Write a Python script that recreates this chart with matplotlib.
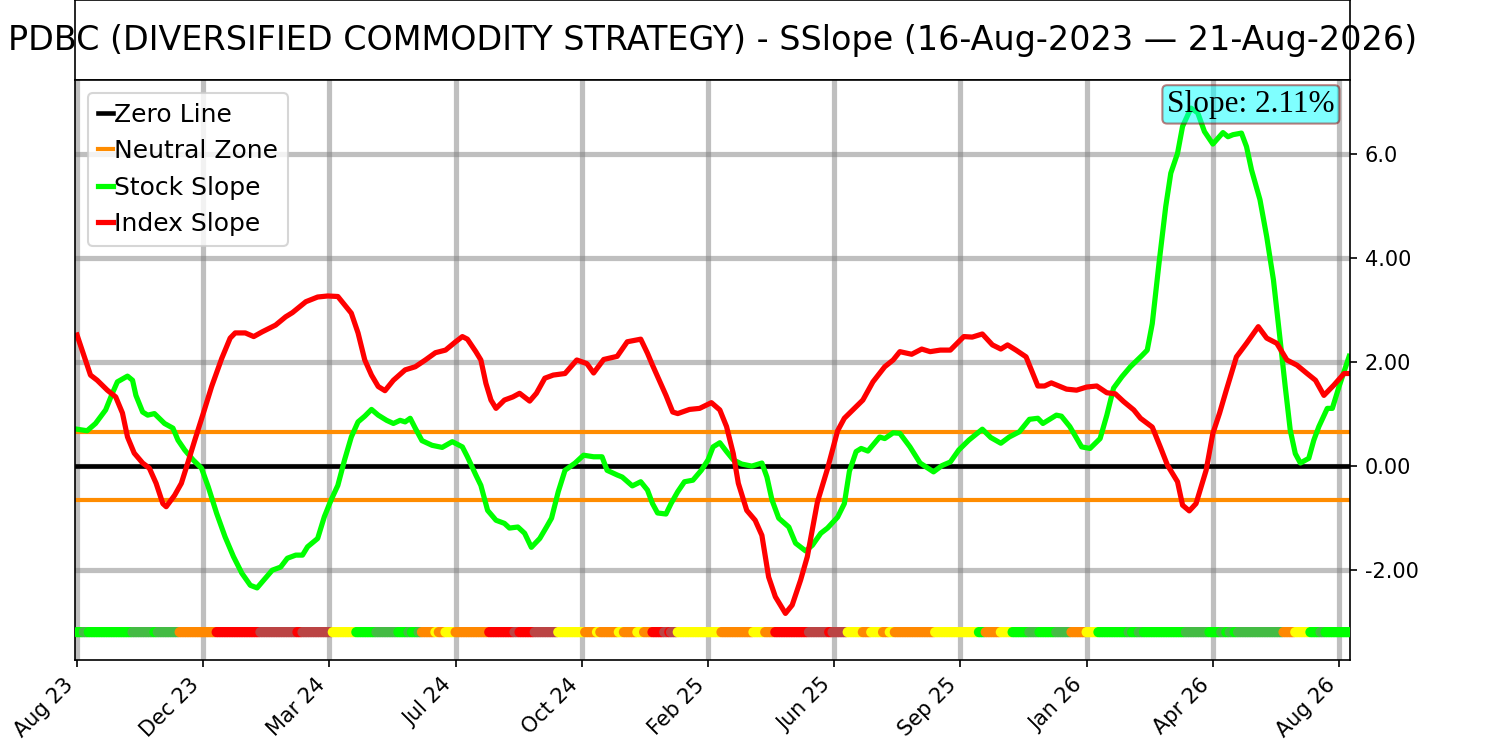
import numpy as np
import matplotlib.pyplot as plt

title = 'PDBC (DIVERSIFIED COMMODITY STRATEGY) - SSlope (16-Aug-2023 \u2014 21-Aug-2026)'

n_bars = 757
tick_pos = [0, 75, 150, 225, 300, 375, 450, 525, 600, 675, 750]
tick_labels = ['Aug 23', 'Dec 23', 'Mar 24', 'Jul 24', 'Oct 24', 'Feb 25',
               'Jun 25', 'Sep 25', 'Jan 26', 'Apr 26', 'Aug 26']
y_ticks = [-2, 0, 2, 4, 6]
y_tick_labels = ['-2.00', '0.00', '2.00', '4.00', '6.0']
neutral = 0.65
last_slope = 2.11

# stock slope readings (bar index, value)
stock_idx = [0, 6, 11, 17, 21, 24, 30, 33, 35, 39, 42, 46, 52, 57, 60, 64, 69, 74, 78, 83,
             88, 93, 98, 103, 107, 111, 116, 121, 125, 130, 134, 137, 143, 147, 151, 155, 159,
             163, 167, 171, 175, 179, 184, 188, 192, 195, 198, 201, 205, 211, 217, 223, 229,
             232, 237, 240, 244, 249, 254, 257, 262, 266, 270, 275, 279, 282, 286, 290, 296,
             301, 307, 312, 315, 321, 324, 330, 335, 339, 342, 345, 350, 353, 357, 361, 366,
             371, 375, 378, 382, 386, 390, 395, 401, 407, 410, 413, 417, 423, 427, 433, 437,
             442, 446, 452, 456, 459, 463, 466, 470, 477, 480, 485, 489, 495, 501, 509, 514,
             519, 524, 530, 538, 543, 549, 554, 560, 566, 571, 574, 582, 585, 590, 597, 602,
             608, 612, 616, 621, 626, 633, 636, 639, 643, 647, 650, 654, 657, 662, 666, 670,
             675, 681, 684, 687, 692, 695, 698, 703, 707, 711, 715, 718, 721, 724, 727, 732,
             735, 738, 743, 746, 750, 756]
stock_val = [0.71, 0.68, 0.82, 1.08, 1.40, 1.62, 1.73, 1.65, 1.36, 1.04, 0.98, 1.01, 0.82, 0.73,
             0.50, 0.31, 0.12, -0.04, -0.40, -0.91, -1.36, -1.74, -2.06, -2.29, -2.34, -2.19,
             -2.00, -1.94, -1.77, -1.71, -1.71, -1.55, -1.39, -0.97, -0.65, -0.37, 0.12, 0.56,
             0.85, 0.96, 1.09, 0.98, 0.88, 0.82, 0.88, 0.85, 0.92, 0.73, 0.49, 0.40, 0.36, 0.47,
             0.37, 0.18, -0.17, -0.37, -0.85, -1.04, -1.10, -1.19, -1.17, -1.29, -1.56, -1.39,
             -1.17, -1.00, -0.49, -0.08, 0.06, 0.21, 0.18, 0.18, -0.08, -0.17, -0.21, -0.38,
             -0.30, -0.46, -0.72, -0.90, -0.92, -0.72, -0.49, -0.30, -0.27, -0.08, 0.12, 0.37,
             0.45, 0.28, 0.12, 0.04, 0.00, 0.06, -0.21, -0.65, -1.00, -1.17, -1.48, -1.63,
             -1.52, -1.29, -1.19, -0.98, -0.72, -0.10, 0.28, 0.34, 0.29, 0.56, 0.53, 0.64, 0.63,
             0.37, 0.06, -0.11, 0.01, 0.08, 0.31, 0.50, 0.71, 0.55, 0.44, 0.56, 0.66, 0.90, 0.92,
             0.82, 0.98, 0.96, 0.76, 0.37, 0.34, 0.53, 0.98, 1.50, 1.72, 1.91, 2.13, 2.23, 2.74,
             3.90, 4.99, 5.63, 6.01, 6.53, 6.88, 6.79, 6.43, 6.19, 6.41, 6.33, 6.37, 6.40, 6.14,
             5.69, 5.12, 4.41, 3.58, 2.42, 1.53, 0.69, 0.24, 0.06, 0.15, 0.50, 0.76, 1.11, 1.11,
             1.53, 2.11]

# index slope readings (bar index, value)
index_idx = [0, 5, 8, 12, 18, 23, 27, 30, 34, 39, 43, 47, 51, 53, 58, 62, 66, 70, 75, 80, 86,
             91, 94, 100, 105, 110, 118, 124, 128, 136, 143, 149, 155, 159, 163, 167, 171, 175,
             179, 183, 188, 195, 201, 207, 213, 219, 225, 229, 232, 237, 240, 243, 246, 249,
             254, 259, 263, 269, 273, 278, 283, 290, 297, 303, 307, 313, 321, 327, 335, 339,
             342, 346, 350, 354, 357, 364, 370, 377, 382, 386, 390, 393, 398, 403, 407, 411,
             415, 421, 425, 430, 434, 440, 446, 452, 456, 461, 467, 473, 480, 485, 489, 496,
             502, 507, 513, 519, 527, 532, 538, 544, 549, 553, 558, 564, 568, 571, 575, 579,
             588, 594, 600, 606, 612, 617, 622, 628, 632, 639, 644, 648, 654, 657, 661, 665,
             671, 675, 679, 683, 689, 695, 702, 707, 713, 719, 725, 731, 736, 741, 747, 753, 756]
index_val = [2.52, 2.04, 1.75, 1.65, 1.46, 1.33, 1.02, 0.56, 0.25, 0.06, -0.04, -0.33, -0.72,
             -0.78, -0.56, -0.33, 0.08, 0.50, 1.01, 1.53, 2.07, 2.46, 2.56, 2.56, 2.49, 2.58,
             2.71, 2.87, 2.95, 3.16, 3.25, 3.27, 3.26, 3.10, 2.94, 2.56, 2.04, 1.75, 1.53, 1.45,
             1.65, 1.85, 1.91, 2.04, 2.18, 2.23, 2.39, 2.49, 2.44, 2.20, 2.04, 1.59, 1.27, 1.11,
             1.27, 1.33, 1.40, 1.25, 1.40, 1.69, 1.75, 1.78, 2.04, 1.97, 1.79, 2.05, 2.11, 2.39,
             2.44, 2.17, 1.94, 1.65, 1.36, 1.04, 1.01, 1.09, 1.11, 1.22, 1.08, 0.76, 0.24, -0.33,
             -0.85, -1.04, -1.33, -2.13, -2.51, -2.83, -2.67, -2.19, -1.74, -0.69, -0.05, 0.68,
             0.92, 1.08, 1.27, 1.62, 1.91, 2.04, 2.20, 2.15, 2.25, 2.20, 2.23, 2.23, 2.49, 2.48,
             2.54, 2.33, 2.25, 2.33, 2.23, 2.10, 1.78, 1.54, 1.54, 1.60, 1.48, 1.46, 1.52, 1.54,
             1.41, 1.39, 1.24, 1.08, 0.92, 0.75, 0.35, 0.02, -0.30, -0.75, -0.86, -0.72, -0.08,
             0.63, 1.02, 1.46, 2.10, 2.36, 2.68, 2.46, 2.36, 2.04, 1.94, 1.78, 1.65, 1.36, 1.56,
             1.78, 1.78]

# state of each bar as runs: (state, number of bars)
state_runs = [('G', 4), ('g', 3), ('G', 26), ('g', 13), ('G', 2), ('g', 13), ('O', 22),
              ('R', 26), ('r', 22), ('R', 3), ('r', 18), ('Y', 14), ('G', 12), ('g', 13),
              ('G', 6), ('g', 2), ('G', 4), ('g', 2), ('O', 8), ('Y', 2), ('O', 4), ('Y', 6),
              ('O', 20), ('R', 15), ('r', 3), ('R', 9), ('r', 14), ('Y', 16), ('O', 7),
              ('Y', 2), ('O', 11), ('Y', 3), ('O', 8), ('Y', 4), ('O', 5), ('R', 7), ('r', 3),
              ('R', 1), ('r', 4), ('Y', 26), ('O', 19), ('Y', 7), ('O', 6), ('R', 20),
              ('r', 12), ('R', 2), ('r', 9), ('Y', 9), ('O', 5), ('Y', 7), ('O', 4), ('Y', 3),
              ('O', 24), ('Y', 26), ('G', 4), ('O', 9), ('Y', 7), ('G', 10), ('g', 6),
              ('G', 10), ('g', 9), ('O', 9), ('Y', 7), ('G', 18), ('g', 2), ('G', 4), ('g', 3),
              ('G', 25), ('g', 14), ('G', 7), ('g', 3), ('G', 2), ('g', 3), ('G', 2), ('g', 27),
              ('O', 7), ('Y', 9), ('G', 6), ('g', 3), ('G', 15)]
state_colors = {'G': '#00ff00', 'g': '#44bb44', 'O': '#ff8800', 'R': '#ff0000',
                'r': '#bb4444', 'Y': '#ffff00'}

states = np.repeat([s for s, k in state_runs], [k for s, k in state_runs])
dot_colors = [state_colors[s] for s in states]
dot_x = np.arange(len(states))

fig = plt.figure(figsize=(10, 4.94), dpi=150)

ax_t = fig.add_axes([0.05, 0.892, 0.85, 0.108])
ax_t.set_xticks([])
ax_t.set_yticks([])
ax_t.text(0.5, 0.5, title, ha='center', va='center', fontsize=16, transform=ax_t.transAxes)

ax = fig.add_axes([0.05, 0.109, 0.85, 0.783])
ax.grid(True, color='gray', alpha=0.5, lw=2.5)
ax.set_axisbelow(True)
ax.axhline(0, color='black', lw=2.2, label='Zero Line')
ax.axhline(neutral, color='darkorange', lw=2, label='Neutral Zone')
ax.axhline(-neutral, color='darkorange', lw=2)
ax.plot(stock_idx, stock_val, color='lime', lw=2.5, label='Stock Slope')
ax.plot(index_idx, index_val, color='red', lw=2.5, label='Index Slope')
ax.scatter(dot_x, np.full(len(dot_x), -3.19), c=dot_colors, s=24, linewidths=0, zorder=3)

ax.set_xlim(-1.2, 756.5)
ax.set_ylim(-3.73, 7.42)
ax.set_xticks(tick_pos)
ax.set_xticklabels(tick_labels, rotation=45, ha='right')
ax.yaxis.tick_right()
ax.set_yticks(y_ticks)
ax.set_yticklabels(y_tick_labels)

ax.legend(loc='upper left', fontsize=12, handlelength=0.6, handletextpad=0.05)
ax.text(0.988, 0.983, 'Slope: %.2f%%' % last_slope, transform=ax.transAxes, ha='right',
        va='top', fontsize=15, family='Liberation Serif',
        bbox=dict(boxstyle='round,pad=0.15', facecolor='cyan', edgecolor='darkred', alpha=0.5))

fig.savefig('out.png', dpi=150)
